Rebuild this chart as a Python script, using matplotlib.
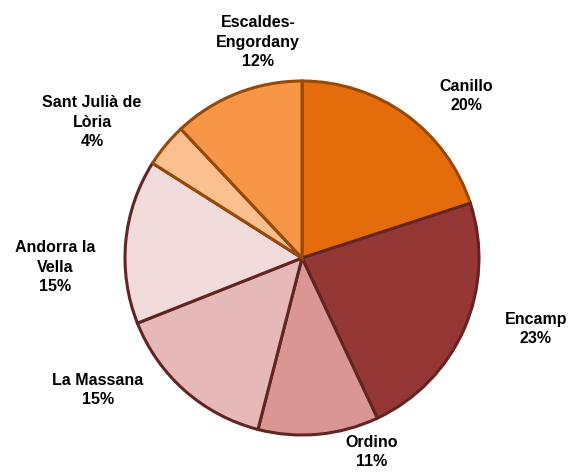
import matplotlib
matplotlib.use("Agg")
import matplotlib.pyplot as plt

# Data
regions = ["Canillo", "Encamp", "Ordino", "La Massana", "Andorra la\nVella",
           "Sant Julià de\nLòria", "Escaldes-\nEngordany"]
shares = [20, 23, 11, 15, 15, 4, 12]

# Styles
fills = ["#E46C0A", "#953735", "#D99694", "#E6B9B8", "#F2DCDB", "#FAC090", "#F79646"]
edges = ["#984807", "#632523", "#632523", "#632523", "#632523", "#984807", "#984807"]
# label centres in pixel coords (x from left, y from top)
label_pos = [(466, 96), (536, 329), (372, 452), (98, 390), (55, 267), (92, 122), (258, 42)]

W, H = 570, 474
fig = plt.figure(figsize=(W / 100, H / 100), dpi=100)
ax = fig.add_axes([0, 0, 1, 1])

cx, cy, r = 302, H - 258, 177
wedges, _ = ax.pie(shares, startangle=90, counterclock=False, center=(cx, cy),
                   radius=r, frame=True, colors=fills)
for w, ec in zip(wedges, edges):
    w.set_edgecolor(ec)
    w.set_linewidth(2.2)
ax.set_xlim(0, W)
ax.set_ylim(0, H)
ax.set_aspect("equal")
ax.axis("off")

for name, val, (px, py) in zip(regions, shares, label_pos):
    ax.text(px, H - py, f"{name}\n{val}%", ha="center", va="center",
            fontsize=11.5, fontweight="bold", family="Liberation Sans",
            linespacing=1.4, color="black")

fig.savefig("out.png", dpi=100)
